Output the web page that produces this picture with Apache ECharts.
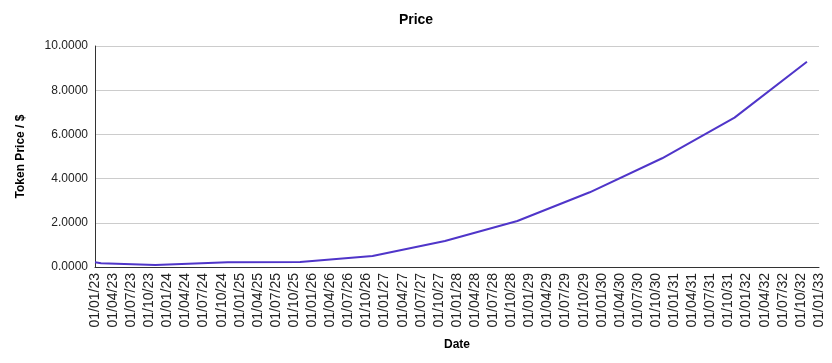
<!DOCTYPE html>
<html>
<head>
<meta charset="utf-8">
<script src="https://cdn.jsdelivr.net/npm/echarts@6/dist/echarts.min.js"></script>
<style>html,body{margin:0;padding:0;background:#fff}#c{width:832px;height:363px}</style>
</head>
<body>
<div id="c"></div>
<script>
// Tick labels (quarterly, month offsets 0..120 step 3 from 01/01/23)
const tickLabels = [
  "01/01/23","01/04/23","01/07/23","01/10/23",
  "01/01/24","01/04/24","01/07/24","01/10/24",
  "01/01/25","01/04/25","01/07/25","01/10/25",
  "01/01/26","01/04/26","01/07/26","01/10/26",
  "01/01/27","01/04/27","01/07/27","01/10/27",
  "01/01/28","01/04/28","01/07/28","01/10/28",
  "01/01/29","01/04/29","01/07/29","01/10/29",
  "01/01/30","01/04/30","01/07/30","01/10/30",
  "01/01/31","01/04/31","01/07/31","01/10/31",
  "01/01/32","01/04/32","01/07/32","01/10/32",
  "01/01/33"
];
// Data point dates as months since 01/01/23
const pointMonths = [0, 1, 10, 22, 34, 46, 58, 70, 82, 94, 106, 118];
// Token price ($)
const prices = [0.21, 0.17, 0.09, 0.22, 0.23, 0.50, 1.18, 2.08, 3.38, 4.92, 6.76, 9.29];

const chart = echarts.init(document.getElementById('c'));
const font = 'Liberation Sans, Arial, sans-serif';
chart.setOption({
  animation: false,
  backgroundColor: '#fff',
  title: {
    text: 'Price', left: 'center', top: 8,
    textStyle: { fontFamily: font, fontSize: 14, fontWeight: 'bold', color: '#000' }
  },
  grid: { left: 95, right: 13, top: 46, bottom: 96 },
  xAxis: {
    type: 'value', min: 0, max: 120, interval: 3,
    name: 'Date', nameLocation: 'middle', nameGap: 72,
    nameTextStyle: { fontFamily: font, fontSize: 12, fontWeight: 'bold', color: '#000' },
    axisLine: { show: true, lineStyle: { color: '#333', width: 1 } },
    axisTick: { show: false },
    splitLine: { show: false },
    axisLabel: {
      rotate: 90, margin: 6, fontFamily: font, fontSize: 14, color: '#222',
      formatter: v => tickLabels[Math.round(v / 3)] || ''
    }
  },
  yAxis: {
    type: 'value', min: 0, max: 10, interval: 2,
    name: 'Token Price / $', nameLocation: 'middle', nameGap: 68,
    nameTextStyle: { fontFamily: font, fontSize: 12, fontWeight: 'bold', color: '#000' },
    axisLine: { show: true, lineStyle: { color: '#333', width: 1 } },
    axisTick: { show: false },
    splitLine: { lineStyle: { color: '#cccccc', width: 1 } },
    axisLabel: {
      margin: 7, fontFamily: font, fontSize: 12, color: '#222',
      formatter: v => v.toFixed(4)
    }
  },
  series: [{
    type: 'line',
    data: pointMonths.map((m, i) => [m, prices[i]]),
    showSymbol: false,
    lineStyle: { color: '#4f35c9', width: 2 },
    itemStyle: { color: '#4f35c9' }
  }]
});
</script>
</body>
</html>
